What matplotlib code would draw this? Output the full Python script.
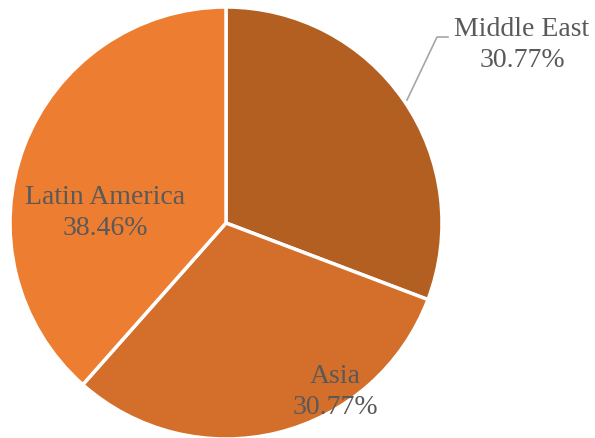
import matplotlib.pyplot as plt

regions = ["Middle East", "Asia", "Latin America"]
counts = [4, 4, 5]
colors = ["#B45F22", "#D46F2B", "#ED7D31"]

total = sum(counts)
pcts = [c / total * 100 for c in counts]

fig = plt.figure(figsize=(5.95, 4.38), dpi=100)
ax = fig.add_axes([0, 0, 1, 1])

cx, cy, r = 226, 215, 216
ax.pie(
    counts,
    colors=colors,
    startangle=90,
    counterclock=False,
    center=(cx, cy),
    radius=r,
    wedgeprops=dict(edgecolor="white", linewidth=2.5),
    frame=True,
)
ax.set_xlim(0, 595)
ax.set_ylim(0, 438)
ax.set_aspect("equal")
ax.axis("off")

font = dict(family="Liberation Serif", size=20, color="#595959", ha="center", va="center", linespacing=1.35)
labels = [f"{n}\n{p:.2f}%" for n, p in zip(regions, pcts)]

ax.text(522, 438 - 45, labels[0], **font)
ax.text(335, 438 - 392, labels[1], **font)
ax.text(105, 438 - 213, labels[2], **font)

# leader line for Middle East
ax.plot([407, 437, 448], [438 - 100, 438 - 37, 438 - 37], color="#A6A6A6", linewidth=1.2)

fig.savefig("out.png", dpi=100)
